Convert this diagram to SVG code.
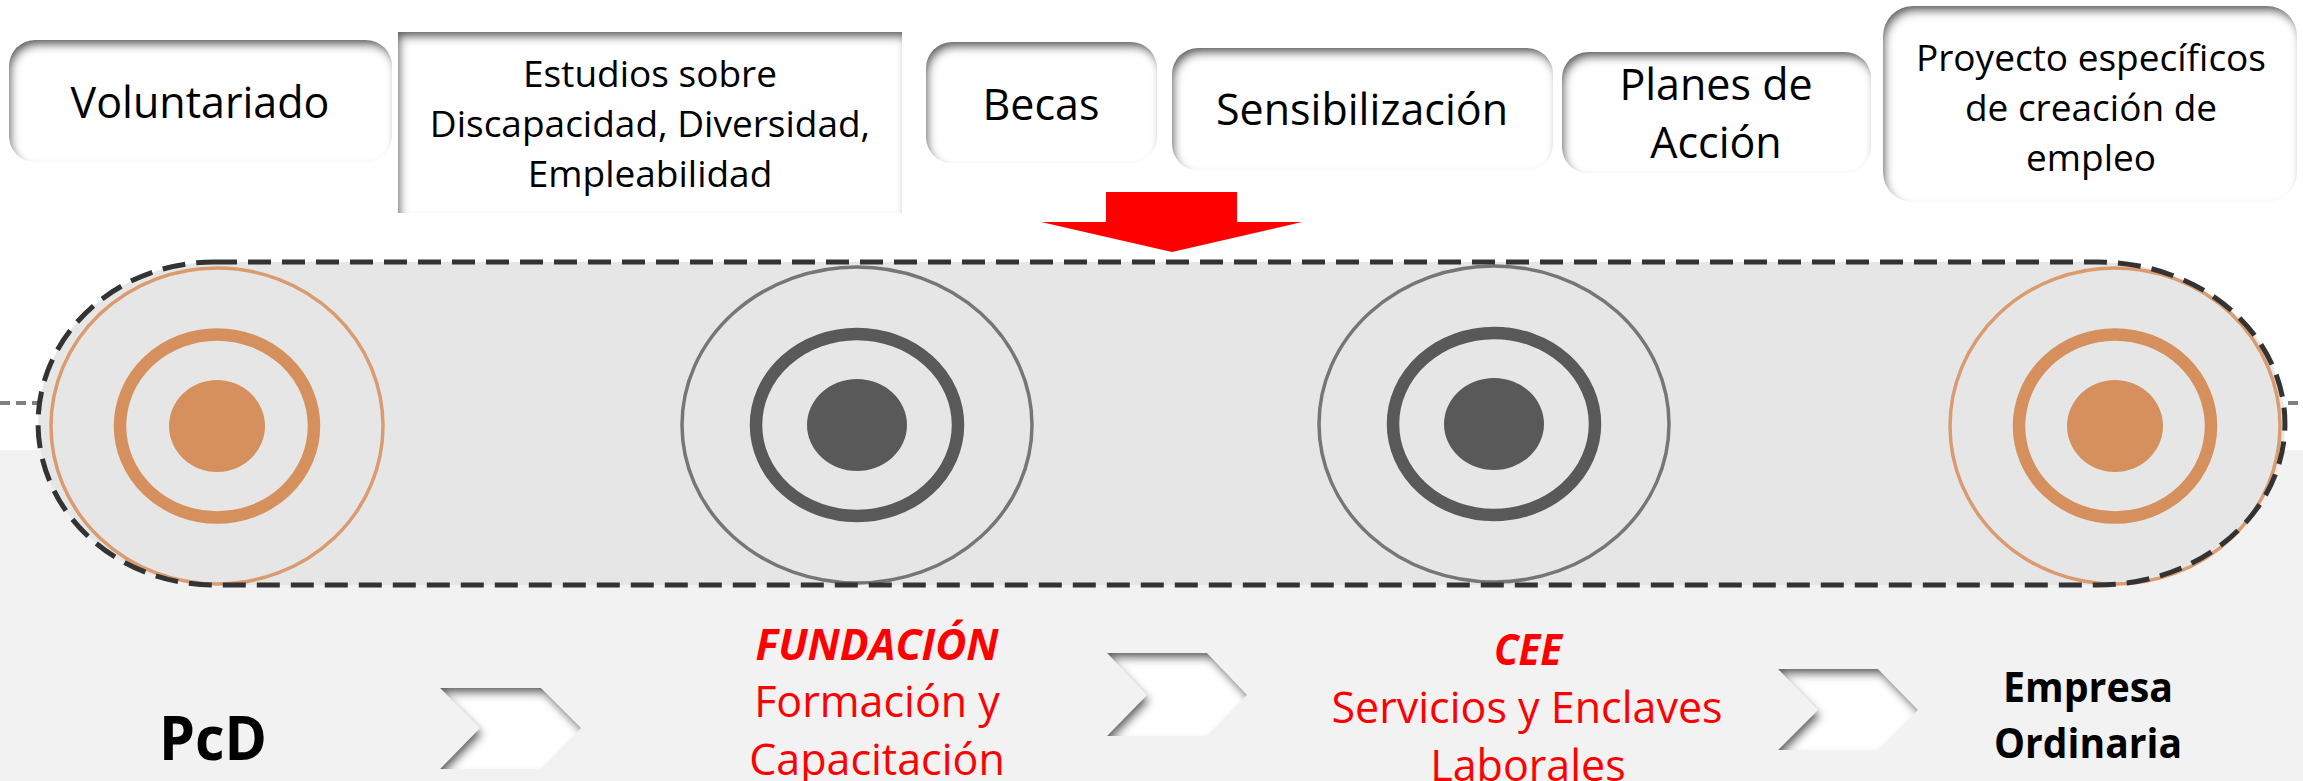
<svg xmlns="http://www.w3.org/2000/svg" width="2303" height="781" viewBox="0 0 2303 781">
  <defs>
    <style>
      .t { font-family: "Open Sans", "Noto Sans", sans-serif; text-anchor: middle; fill: #000000; }
      .lg { font-size: 43px; }
      .md { font-size: 37px; }
      .red { fill: #FF0000; }
      .b { font-weight: 700; }
      .bi { font-weight: 700; font-style: italic; }
      .box { fill: #FFFFFF; filter: url(#inset); }
      .chev { fill: #FFFFFF; filter: url(#inset); }
      .oOuter { fill: none; stroke: #DB9B70; stroke-width: 3.5; }
      .oRing { fill: none; stroke: #D5905E; stroke-width: 12.5; }
      .oCore { fill: #D5905E; }
      .gOuter { fill: none; stroke: #767676; stroke-width: 3.5; }
      .gRing { fill: none; stroke: #595959; stroke-width: 12.5; }
      .gCore { fill: #595959; }
    </style>
    <filter id="inset" x="-10%" y="-20%" width="120%" height="140%">
      <feFlood flood-color="#4a4a4a" flood-opacity="0.95" result="f"/>
      <feComposite in="f" in2="SourceAlpha" operator="out" result="inv"/>
      <feGaussianBlur in="inv" stdDeviation="4" result="bl"/>
      <feOffset in="bl" dx="3" dy="6" result="off"/>
      <feComposite in="off" in2="SourceAlpha" operator="in" result="is"/>
      <feMerge>
        <feMergeNode in="SourceGraphic"/>
        <feMergeNode in="is"/>
      </feMerge>
    </filter>
  </defs>

  <!-- background -->
  <rect x="0" y="0" width="2303" height="781" fill="#FFFFFF"/>
  <rect x="0" y="450" width="2303" height="331" fill="#F2F2F2"/>
  <line x1="0" y1="403" x2="2303" y2="403" stroke="#808080" stroke-width="4" stroke-dasharray="10 6"/>

  <!-- belt -->
  <g id="belt">
    <path d="M 214 262 H 2098 A 187 161.5 0 0 1 2098 585 H 214 A 176 161.5 0 0 1 214 262 Z" fill="#E6E6E6"/>
  </g>

  <!-- rollers -->
  <g id="roller-pcd">
    <ellipse cx="217" cy="426" rx="166" ry="158" class="oOuter"/>
    <ellipse cx="217" cy="426" rx="97" ry="91.5" class="oRing"/>
    <ellipse cx="217" cy="426" rx="48" ry="46" class="oCore"/>
  </g>
  <g id="roller-fundacion">
    <ellipse cx="857" cy="425" rx="175" ry="158" class="gOuter"/>
    <ellipse cx="857" cy="425" rx="101" ry="91" class="gRing"/>
    <ellipse cx="857" cy="425" rx="50" ry="46" class="gCore"/>
  </g>
  <g id="roller-cee">
    <ellipse cx="1494" cy="424" rx="175" ry="158" class="gOuter"/>
    <ellipse cx="1494" cy="424" rx="101" ry="91" class="gRing"/>
    <ellipse cx="1494" cy="424" rx="50" ry="46" class="gCore"/>
  </g>
  <g id="roller-empresa">
    <ellipse cx="2115" cy="426" rx="165" ry="158" class="oOuter"/>
    <ellipse cx="2115" cy="426" rx="96" ry="91.5" class="oRing"/>
    <ellipse cx="2115" cy="426" rx="48" ry="46" class="oCore"/>
  </g>

  <g id="belt-outline">
    <path d="M 214 262 H 2098 A 187 161.5 0 0 1 2098 585 H 214 A 176 161.5 0 0 1 214 262 Z" fill="none" stroke="#333333" stroke-width="5" stroke-dasharray="23 11"/>
  </g>

  <!-- top boxes -->
  <g id="box-voluntariado">
    <rect x="9" y="40" width="383" height="122" rx="26" class="box"/>
    <text x="200" y="118" class="t lg">Voluntariado</text>
  </g>
  <g id="box-estudios">
    <rect x="398" y="32" width="504" height="181" class="box"/>
    <text x="650" y="87" class="t md">Estudios sobre</text>
    <text x="650" y="137" class="t md">Discapacidad, Diversidad,</text>
    <text x="650" y="187" class="t md">Empleabilidad</text>
  </g>
  <g id="box-becas">
    <rect x="926" y="42" width="231" height="121" rx="26" class="box"/>
    <text x="1041" y="120" class="t lg">Becas</text>
  </g>
  <g id="box-sensibilizacion">
    <rect x="1172" y="48" width="381" height="122" rx="26" class="box"/>
    <text x="1362" y="125" class="t lg">Sensibilización</text>
  </g>
  <g id="box-planes">
    <rect x="1562" y="52" width="309" height="121" rx="26" class="box"/>
    <text x="1716" y="100" class="t lg">Planes de</text>
    <text x="1716" y="158" class="t lg">Acción</text>
  </g>
  <g id="box-proyecto">
    <rect x="1883" y="6" width="414" height="196" rx="30" class="box"/>
    <text x="2091" y="71" class="t md">Proyecto específicos</text>
    <text x="2091" y="121" class="t md">de creación de</text>
    <text x="2091" y="171" class="t md">empleo</text>
  </g>

  <!-- bottom labels -->
  <g id="label-pcd">
    <text x="213" y="760" class="t b" font-size="60" textLength="108" lengthAdjust="spacingAndGlyphs">PcD</text>
  </g>
  <g id="label-fundacion">
    <text x="877" y="660" class="t lg bi red" textLength="243" lengthAdjust="spacingAndGlyphs">FUNDACIÓN</text>
    <text x="877" y="717" class="t lg red">Formación y</text>
    <text x="877" y="775" class="t lg red">Capacitación</text>
  </g>
  <g id="label-cee">
    <text x="1528" y="665" class="t lg bi red" textLength="68" lengthAdjust="spacingAndGlyphs">CEE</text>
    <text x="1527" y="723" class="t lg red">Servicios y Enclaves</text>
    <text x="1528" y="781" class="t lg red">Laborales</text>
  </g>
  <g id="label-empresa">
    <text x="2088" y="702" class="t b" font-size="42" textLength="170" lengthAdjust="spacingAndGlyphs">Empresa</text>
    <text x="2088" y="758" class="t b" font-size="42" textLength="188" lengthAdjust="spacingAndGlyphs">Ordinaria</text>
  </g>

  <!-- connectors -->
  <g id="connectors">
    <polygon points="1106,192 1237,192 1237,222 1302,222 1172,252 1041,222 1106,222" fill="#FF0000"/>
    <polygon points="440,688 541,688 581,728 541,769 440,769 480,728" class="chev"/>
    <polygon points="1107,653 1207,653 1247,695 1207,736 1107,736 1147,695" class="chev"/>
    <polygon points="1778,669 1878,669 1918,710 1878,750 1778,750 1818,710" class="chev"/>
  </g>
</svg>
